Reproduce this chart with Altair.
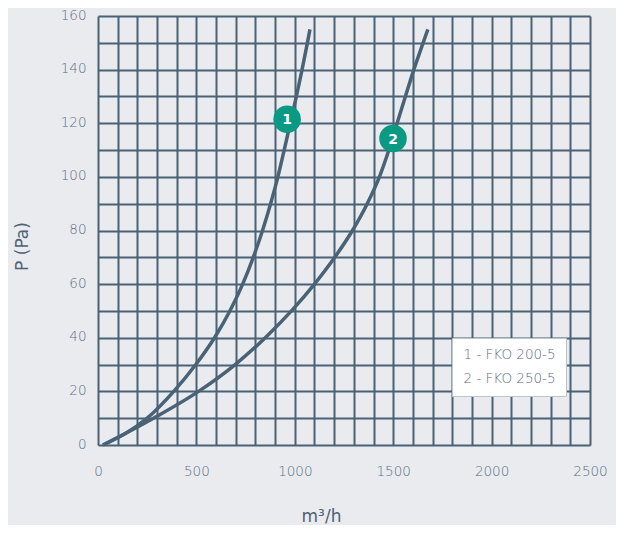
import altair as alt
import pandas as pd

# Curve data
pressure = [0, 10, 20, 30, 40, 50, 60, 70, 80, 90, 100, 110, 120, 130, 140, 150, 155]
flow_fko200 = [25, 250, 385, 497, 592, 670, 735, 789, 836, 877, 914, 946, 977, 1008, 1037, 1064, 1077]
flow_fko250 = [25, 282, 511, 697, 850, 983, 1100, 1203, 1293, 1368, 1430, 1478, 1520, 1562, 1605, 1652, 1676]
series_names = ["1 - FKO 200-5", "2 - FKO 250-5"]

badge_labels = ["1", "2"]
badge_flow = [961, 1499]
badge_pressure = [121.5, 114.3]

x_ticks = list(range(0, 2501, 100))
y_ticks = list(range(0, 161, 10))

GRID = "#4a6275"
BG = "#e9ebef"
TEAL = "#0a9a84"
LABEL = "#5c7083"
FONT = "DejaVu Sans"

rows = []
for name, flows in zip(series_names, [flow_fko200, flow_fko250]):
    for i, (q, p) in enumerate(zip(flows, pressure)):
        rows.append({"series": name, "q": q, "p": p, "order": i})
curves = pd.DataFrame(rows)
badges = pd.DataFrame({"label": badge_labels, "q": badge_flow, "p": badge_pressure})

x_scale = alt.Scale(domain=[0, 2500], nice=False)
y_scale = alt.Scale(domain=[0, 160], nice=False)

x_axis = alt.Axis(
    values=x_ticks, format="d",
    labelExpr="datum.value % 500 == 0 ? datum.label : ''",
    grid=True, gridColor=GRID, gridWidth=2, gridOpacity=1,
    ticks=False, domain=False, labelOverlap=False, labelFlush=False,
    labelPadding=19, labelFontSize=13.5, labelColor=LABEL, labelFont=FONT,
    labelFontWeight=300,
    title="m³/h", titleFont=FONT, titleFontSize=17, titleFontWeight="normal",
    titleColor="#4d6275", titleX=223, titleY=71, titleAlign="center",
    titleBaseline="middle",
)
y_axis = alt.Axis(
    values=y_ticks, format="d",
    labelExpr="datum.value % 20 == 0 ? datum.label : ''",
    grid=True, gridColor=GRID, gridWidth=2, gridOpacity=1,
    ticks=False, domain=False, labelOverlap=False, labelFlush=False,
    labelPadding=12, labelOffset=-1, labelBaseline="middle",
    labelFontSize=13.5, labelColor=LABEL, labelFont=FONT, labelFontWeight=300,
    title="P (Pa)", titleFont=FONT, titleFontSize=17, titleFontWeight="normal",
    titleColor="#4d6275", titleX=-76, titleY=230, titleAlign="center",
    titleBaseline="middle", titleAngle=-90,
)

X = alt.X("q:Q", scale=x_scale, axis=x_axis)
Y = alt.Y("p:Q", scale=y_scale, axis=y_axis)

lines = alt.Chart(curves).mark_line(strokeWidth=3.5, interpolate="monotone").encode(
    x=X,
    y=Y,
    order="order:Q",
    color=alt.Color(
        "series:N",
        scale=alt.Scale(domain=series_names, range=[GRID, GRID]),
        legend=alt.Legend(
            title=None, orient="none", legendX=354, legendY=322,
            fillColor="white", strokeColor="#bcc4cc", padding=10,
            symbolSize=1, symbolStrokeWidth=0, symbolType="circle",
            symbolOpacity=0,
            labelOffset={"expr": "-12"}, labelFontSize=13.5, labelColor="#5d6f80",
            labelFont=FONT, labelFontWeight=300, rowPadding=9,
        ),
    ),
)

dots = alt.Chart(badges).mark_circle(size=760, color=TEAL, opacity=1).encode(
    x=X,
    y=Y,
)
texts = alt.Chart(badges).mark_text(
    color="white", fontWeight="bold", fontSize=14, font=FONT, baseline="middle", dy=1
).encode(
    x=X,
    y=Y,
    text="label:N",
)

chart = alt.layer(lines, dots, texts).properties(
    width=492, height=429,
    padding={"left": 90, "top": 8, "right": 26, "bottom": 80},
    autosize="none",
    background=BG,
).configure_view(strokeWidth=0)

chart.save("out.html", embed_options={"renderer": "svg", "actions": False})
